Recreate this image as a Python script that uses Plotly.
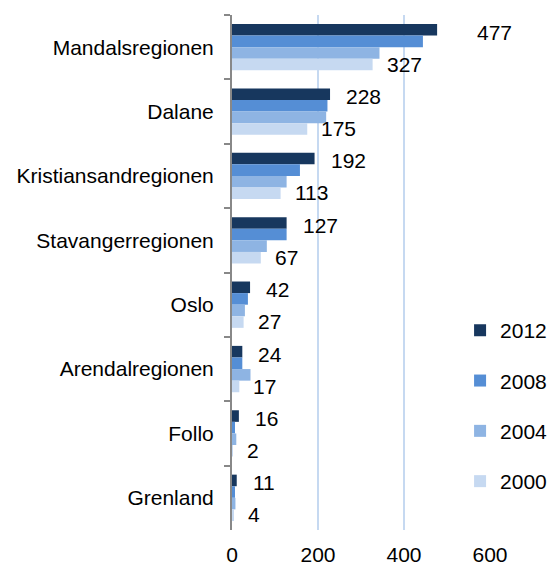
import plotly.graph_objects as go

regions = ["Mandalsregionen", "Dalane", "Kristiansandregionen", "Stavangerregionen",
           "Oslo", "Arendalregionen", "Follo", "Grenland"]
years = ["2012", "2008", "2004", "2000"]
v2012 = [477, 228, 192, 127, 42, 24, 16, 11]
v2008 = [444, 222, 158, 127, 37, 24, 7, 7]
v2004 = [343, 219, 127, 81, 30, 43, 10, 8]
v2000 = [327, 175, 113, 67, 27, 17, 2, 4]
x_ticks = [0, 200, 400, 600]

series = [v2012, v2008, v2004, v2000]
colors = ["#17375E", "#558ED5", "#8EB4E3", "#C6D9F1"]
FONT = "Liberation Sans, Arial, sans-serif"

fig = go.Figure()
for name, vals, col in zip(years, series, colors):
    fig.add_trace(go.Bar(
        y=regions, x=vals, name=name, orientation="h",
        marker=dict(color=col, line=dict(width=0)),
        legendgroup=name,
    ))

# value labels for 2012 and 2000
annotations = []
for reg, val in zip(regions, v2012):
    annotations.append(dict(x=val, y=reg, xref="x", yref="y", text=str(val),
                            showarrow=False, xanchor="left",
                            xshift=38 if val == max(v2012) else 14, yshift=15,
                            font=dict(size=21, color="#000000", family=FONT)))
for reg, val in zip(regions, v2000):
    annotations.append(dict(x=val, y=reg, xref="x", yref="y", text=str(val),
                            showarrow=False, xanchor="left",
                            xshift=12, yshift=-17,
                            font=dict(size=21, color="#000000", family=FONT)))

fig.update_layout(
    width=550, height=565,
    margin=dict(l=232, r=60, t=15, b=35, autoexpand=False),
    paper_bgcolor="white", plot_bgcolor="white",
    barmode="group", bargap=0.28, bargroupgap=0,
    font=dict(family=FONT, size=21, color="#000000"),
    annotations=annotations,
    legend=dict(x=0.884, y=0.427, xanchor="left", yanchor="top",
                traceorder="grouped", tracegroupgap=20,
                font=dict(size=21, family=FONT, color="#000000"),
                bgcolor="rgba(0,0,0,0)", itemwidth=30),
    xaxis=dict(range=[0, 600], tickvals=x_ticks, ticktext=[str(t) for t in x_ticks],
               showgrid=True, gridcolor="#C6D9F1", gridwidth=2,
               zeroline=False, showline=False, ticks="",
               ticklabelstandoff=10, automargin=False,
               tickfont=dict(size=21, family=FONT, color="#000000")),
    yaxis=dict(categoryorder="array", categoryarray=regions, autorange="reversed",
               showline=True, linecolor="#888888", linewidth=2,
               ticks="outside", tickson="boundaries", ticklen=6,
               tickcolor="#888888", tickwidth=2,
               showgrid=False, ticklabelstandoff=12, automargin=False,
               tickfont=dict(size=21, family=FONT, color="#000000")),
    showlegend=True,
)

fig.write_html("out.html",
               config={"displayModeBar": False},
               post_script="document.body.style.margin='0';document.body.style.overflow='hidden';")
